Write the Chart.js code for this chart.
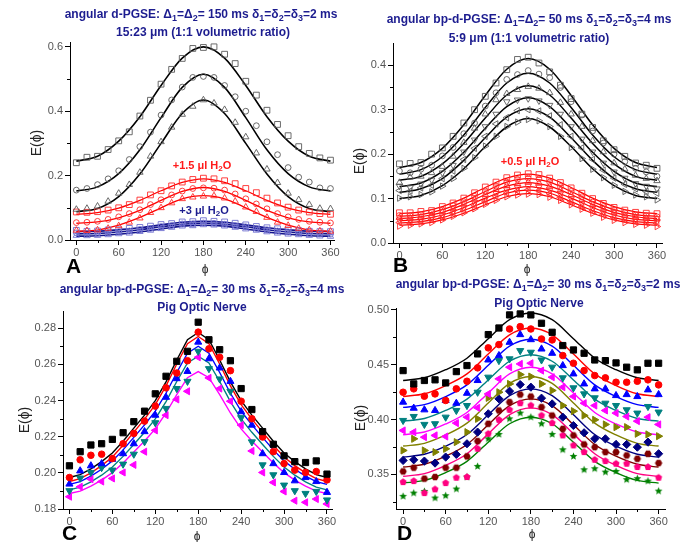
<!DOCTYPE html>
<html>
<head>
<meta charset="utf-8">
<script src="https://cdn.jsdelivr.net/npm/chart.js@4.4.1/dist/chart.umd.min.js"></script>
<style>
  body { margin: 0; background: #fff; }
  #wrap { position: relative; width: 694px; height: 542px; overflow: hidden; font-family: "Liberation Sans", Arial, sans-serif; }
  canvas { position: absolute; }
  .t { position: absolute; white-space: nowrap; transform: translateX(-50%); font-weight: bold; font-size: 12px; color: #1c1c8f; line-height: 14px; }
  .t sub { font-size: 9px; line-height: 0; vertical-align: -3px; }
  .lab { position: absolute; white-space: nowrap; transform: translateX(-50%); font-weight: bold; font-size: 11px; line-height: 13px; }
  .lab sub { font-size: 8px; line-height: 0; vertical-align: -2px; }
  .letter { position: absolute; font-weight: bold; font-size: 21px; line-height: 21px; color: #000; }
  .ey { position: absolute; font-size: 14px; color: #222; transform: translate(-50%,-50%) rotate(-90deg); white-space: nowrap; }
  .ex { position: absolute; font-size: 12px; color: #222; transform: translateX(-50%); }
</style>
</head>
<body>
<div id="wrap">
  <canvas id="cA" width="347" height="271" style="left:0;top:0"></canvas>
  <canvas id="cB" width="347" height="271" style="left:347px;top:0"></canvas>
  <canvas id="cC" width="347" height="271" style="left:0;top:271px"></canvas>
  <canvas id="cD" width="347" height="271" style="left:347px;top:271px"></canvas>

  <div class="t" style="left:201px;top:7px">angular d-PGSE: &Delta;<sub>1</sub>=&Delta;<sub>2</sub>= 150 ms &delta;<sub>1</sub>=&delta;<sub>2</sub>=&delta;<sub>3</sub>=2 ms</div>
  <div class="t" style="left:203px;top:25px">15:23 &mu;m (1:1 volumetric ratio)</div>
  <div class="t" style="left:529px;top:12px">angular bp-d-PGSE: &Delta;<sub>1</sub>=&Delta;<sub>2</sub>= 50 ms &delta;<sub>1</sub>=&delta;<sub>2</sub>=&delta;<sub>3</sub>=4 ms</div>
  <div class="t" style="left:529px;top:31px">5:9 &mu;m (1:1 volumetric ratio)</div>
  <div class="t" style="left:202px;top:282px">angular bp-d-PGSE: &Delta;<sub>1</sub>=&Delta;<sub>2</sub>= 30 ms &delta;<sub>1</sub>=&delta;<sub>2</sub>=&delta;<sub>3</sub>=4 ms</div>
  <div class="t" style="left:202px;top:300px">Pig Optic Nerve</div>
  <div class="t" style="left:538px;top:277px">angular bp-d-PGSE: &Delta;<sub>1</sub>=&Delta;<sub>2</sub>= 30 ms &delta;<sub>1</sub>=&delta;<sub>2</sub>=&delta;<sub>3</sub>=2 ms</div>
  <div class="t" style="left:539px;top:296px">Pig Optic Nerve</div>

  <div class="lab" style="left:202px;top:159px;color:#ff1a1a">+1.5 &mu;l H<sub>2</sub>O</div>
  <div class="lab" style="left:204px;top:204px;color:#1c1c8f">+3 &mu;l H<sub>2</sub>O</div>
  <div class="lab" style="left:530px;top:155px;color:#ff1a1a">+0.5 &mu;l H<sub>2</sub>O</div>

  <div class="ey" style="left:36px;top:143px">E(&#981;)</div>
  <div class="ey" style="left:359px;top:161px">E(&#981;)</div>
  <div class="ey" style="left:24px;top:420px">E(&#981;)</div>
  <div class="ey" style="left:360px;top:418px">E(&#981;)</div>
  <div class="ex" style="left:205px;top:262px">&#981;</div>
  <div class="ex" style="left:527px;top:262px">&#981;</div>
  <div class="ex" style="left:197px;top:529px">&#981;</div>
  <div class="ex" style="left:532px;top:527px">&#981;</div>

  <div class="letter" style="left:66px;top:255px">A</div>
  <div class="letter" style="left:393px;top:254px">B</div>
  <div class="letter" style="left:62px;top:522px">C</div>
  <div class="letter" style="left:397px;top:522px">D</div>
</div>
<script>
// angles
const PHI   = [0,15,30,45,60,75,90,105,120,135,150,165,180,195,210,225,240,255,270,285,300,315,330,345,360];
const PHI30 = [0,30,60,90,120,150,180,210,240,270,300,330,360];

// ---- panel A: d-PGSE, 15:23 um ----
const aBlk1 = [0.240,0.257,0.260,0.281,0.308,0.336,0.385,0.434,0.484,0.530,0.564,0.595,0.598,0.600,0.577,0.548,0.493,0.450,0.403,0.359,0.324,0.290,0.269,0.255,0.248];
const aBlk2 = [0.155,0.160,0.172,0.190,0.215,0.250,0.290,0.335,0.388,0.435,0.475,0.505,0.508,0.505,0.480,0.445,0.400,0.355,0.305,0.265,0.225,0.195,0.180,0.162,0.160];
const aBlk3 = [0.095,0.098,0.105,0.120,0.145,0.172,0.210,0.260,0.305,0.350,0.390,0.415,0.435,0.425,0.405,0.365,0.320,0.270,0.220,0.178,0.145,0.125,0.110,0.098,0.097];
const aRed1 = [0.087,0.086,0.088,0.093,0.100,0.110,0.124,0.140,0.153,0.168,0.180,0.188,0.192,0.190,0.184,0.175,0.160,0.147,0.130,0.115,0.102,0.093,0.087,0.082,0.080];
const aRed2 = [0.054,0.055,0.058,0.064,0.072,0.082,0.094,0.110,0.125,0.140,0.152,0.160,0.162,0.161,0.155,0.143,0.128,0.112,0.097,0.082,0.072,0.064,0.058,0.055,0.053];
const aRed3 = [0.030,0.029,0.031,0.036,0.044,0.055,0.068,0.085,0.100,0.115,0.128,0.133,0.136,0.137,0.130,0.120,0.102,0.088,0.070,0.055,0.045,0.036,0.031,0.028,0.027];
const aBlu1 = [0.030,0.027,0.028,0.031,0.032,0.036,0.039,0.043,0.048,0.051,0.056,0.057,0.060,0.058,0.056,0.052,0.047,0.042,0.038,0.035,0.031,0.029,0.027,0.026,0.026];
const aBlu2 = [0.022,0.021,0.021,0.023,0.026,0.028,0.033,0.036,0.042,0.045,0.050,0.050,0.053,0.052,0.049,0.045,0.041,0.036,0.032,0.028,0.025,0.022,0.020,0.019,0.018];
const aBlu3 = [0.014,0.013,0.014,0.016,0.019,0.021,0.026,0.030,0.035,0.039,0.043,0.044,0.047,0.046,0.043,0.039,0.034,0.030,0.025,0.021,0.018,0.016,0.014,0.012,0.011];
const aBlk1Fit = [0.245,0.260,0.307,0.383,0.480,0.565,0.600,0.565,0.480,0.383,0.307,0.260,0.245];
const aBlk2Fit = [0.152,0.165,0.206,0.280,0.380,0.474,0.515,0.474,0.380,0.280,0.206,0.165,0.152];
const aBlk3Fit = [0.088,0.098,0.135,0.205,0.300,0.393,0.435,0.393,0.300,0.205,0.135,0.098,0.088];
const aRed1Fit = [0.080,0.085,0.099,0.123,0.153,0.179,0.190,0.179,0.153,0.123,0.099,0.085,0.080];
const aRed2Fit = [0.052,0.056,0.069,0.092,0.123,0.151,0.163,0.151,0.123,0.092,0.069,0.056,0.052];
const aRed3Fit = [0.027,0.031,0.046,0.070,0.100,0.128,0.138,0.128,0.100,0.070,0.046,0.031,0.027];
const aBlu1Fit = [0.026,0.027,0.032,0.038,0.047,0.055,0.058,0.055,0.047,0.038,0.032,0.027,0.026];
const aBlu2Fit = [0.019,0.020,0.025,0.032,0.041,0.049,0.052,0.049,0.041,0.032,0.025,0.020,0.019];
const aBlu3Fit = [0.012,0.013,0.018,0.025,0.034,0.043,0.046,0.043,0.034,0.025,0.018,0.013,0.012];

// ---- panel B: bp-d-PGSE, 5:9 um ----
const bBlk1 = [0.178,0.179,0.181,0.200,0.214,0.240,0.270,0.300,0.330,0.360,0.390,0.413,0.418,0.405,0.385,0.355,0.325,0.290,0.260,0.230,0.210,0.195,0.180,0.175,0.168];
const bBlk2 = [0.162,0.158,0.166,0.175,0.196,0.215,0.246,0.270,0.308,0.338,0.368,0.379,0.388,0.380,0.372,0.350,0.318,0.288,0.252,0.225,0.200,0.183,0.168,0.160,0.150];
const bBlk3 = [0.136,0.148,0.150,0.158,0.172,0.195,0.226,0.258,0.290,0.322,0.336,0.345,0.352,0.348,0.338,0.316,0.290,0.262,0.230,0.205,0.180,0.166,0.152,0.145,0.140];
const bBlk4 = [0.128,0.125,0.133,0.142,0.158,0.175,0.205,0.232,0.262,0.290,0.318,0.322,0.325,0.320,0.310,0.290,0.262,0.234,0.205,0.180,0.160,0.146,0.134,0.128,0.122];
const bBlk5 = [0.118,0.117,0.124,0.130,0.145,0.162,0.188,0.213,0.240,0.268,0.282,0.298,0.300,0.297,0.286,0.266,0.240,0.214,0.188,0.164,0.146,0.132,0.122,0.116,0.112];
const bBlk6 = [0.101,0.104,0.109,0.115,0.128,0.145,0.168,0.192,0.218,0.240,0.262,0.272,0.278,0.275,0.262,0.240,0.215,0.190,0.166,0.147,0.130,0.116,0.108,0.104,0.097];
const bRed1 = [0.068,0.068,0.071,0.073,0.082,0.090,0.101,0.113,0.126,0.137,0.147,0.153,0.156,0.154,0.146,0.136,0.124,0.112,0.100,0.089,0.080,0.074,0.069,0.067,0.066];
const bRed2 = [0.062,0.061,0.064,0.069,0.074,0.084,0.093,0.105,0.117,0.128,0.137,0.143,0.146,0.144,0.137,0.127,0.116,0.104,0.092,0.082,0.074,0.068,0.063,0.061,0.059];
const bRed3 = [0.057,0.056,0.058,0.062,0.070,0.077,0.087,0.098,0.109,0.120,0.129,0.133,0.137,0.135,0.128,0.119,0.108,0.097,0.086,0.076,0.069,0.062,0.058,0.056,0.054];
const bRed4 = [0.052,0.050,0.054,0.058,0.063,0.071,0.080,0.091,0.101,0.112,0.120,0.125,0.128,0.126,0.119,0.111,0.100,0.090,0.079,0.070,0.063,0.057,0.053,0.051,0.049];
const bRed5 = [0.046,0.045,0.048,0.052,0.057,0.066,0.074,0.084,0.094,0.104,0.112,0.117,0.120,0.118,0.111,0.103,0.093,0.083,0.073,0.064,0.057,0.052,0.048,0.046,0.044];
const bRed6 = [0.038,0.040,0.043,0.046,0.052,0.060,0.068,0.077,0.087,0.096,0.104,0.108,0.110,0.109,0.103,0.096,0.086,0.076,0.067,0.058,0.051,0.046,0.042,0.040,0.037];
const bBlk1Fit = [0.170,0.181,0.213,0.266,0.332,0.391,0.415,0.391,0.332,0.266,0.213,0.181,0.170];
const bBlk2Fit = [0.155,0.165,0.194,0.243,0.305,0.360,0.382,0.360,0.305,0.243,0.194,0.165,0.155];
const bBlk3Fit = [0.141,0.150,0.178,0.224,0.281,0.333,0.354,0.333,0.281,0.224,0.178,0.150,0.141];
const bBlk4Fit = [0.127,0.135,0.161,0.204,0.258,0.307,0.327,0.307,0.258,0.204,0.161,0.135,0.127];
const bBlk5Fit = [0.114,0.122,0.145,0.186,0.237,0.283,0.302,0.283,0.237,0.186,0.145,0.122,0.114];
const bBlk6Fit = [0.100,0.107,0.129,0.167,0.217,0.261,0.280,0.261,0.217,0.167,0.129,0.107,0.100];
const bRed1Fit = [0.066,0.070,0.082,0.101,0.125,0.146,0.155,0.146,0.125,0.101,0.082,0.070,0.066];
const bRed2Fit = [0.060,0.064,0.075,0.093,0.116,0.137,0.145,0.137,0.116,0.093,0.075,0.064,0.060];
const bRed3Fit = [0.055,0.059,0.069,0.087,0.109,0.128,0.136,0.128,0.109,0.087,0.069,0.059,0.055];
const bRed4Fit = [0.050,0.053,0.063,0.080,0.101,0.119,0.127,0.119,0.101,0.080,0.063,0.053,0.050];
const bRed5Fit = [0.045,0.048,0.057,0.073,0.093,0.112,0.119,0.112,0.093,0.073,0.057,0.048,0.045];
const bRed6Fit = [0.040,0.043,0.052,0.067,0.086,0.104,0.111,0.104,0.086,0.067,0.052,0.043,0.040];

// ---- panel C: pig optic nerve, delta=4 ms ----
const cBlk  = [0.2039,0.2117,0.2154,0.2161,0.2185,0.2222,0.2283,0.2341,0.2437,0.2534,0.2617,0.2672,0.2833,0.2736,0.2681,0.2620,0.2466,0.2350,0.2228,0.2158,0.2094,0.2062,0.2057,0.2066,0.1993];
const cRed  = [0.1974,0.2072,0.2097,0.2103,0.2079,0.2161,0.2218,0.2286,0.2369,0.2470,0.2552,0.2620,0.2778,0.2686,0.2639,0.2565,0.2396,0.2299,0.2198,0.2117,0.2051,0.2015,0.2002,0.2007,0.1961];
const cBlu  = [0.1938,0.2011,0.2039,0.2051,0.2075,0.2106,0.2161,0.2228,0.2319,0.2418,0.2521,0.2561,0.2723,0.2631,0.2580,0.2506,0.2338,0.2264,0.2106,0.2051,0.2002,0.1956,0.1974,0.1952,0.1892];
const cTeal = [0.1901,0.1971,0.2002,0.2029,0.2015,0.2048,0.2103,0.2172,0.2277,0.2356,0.2466,0.2506,0.2672,0.2576,0.2519,0.2451,0.2305,0.2171,0.2044,0.1989,0.1932,0.1901,0.1886,0.1897,0.1850];
const cMag  = [0.1868,0.1923,0.1965,0.1952,0.1969,0.2002,0.2044,0.2117,0.2235,0.2319,0.2406,0.2451,0.2639,0.2525,0.2466,0.2396,0.2264,0.2121,0.2002,0.1947,0.1897,0.1846,0.1837,0.1855,0.1828];
const cBlkFit  = [0.1974,0.1990,0.2022,0.2062,0.2110,0.2175,0.2247,0.2319,0.2399,0.2503,0.2624,0.2736,0.2776,0.2736,0.2624,0.2503,0.2399,0.2319,0.2247,0.2175,0.2110,0.2062,0.2022,0.1990,0.1974];
const cRedFit  = [0.1952,0.1968,0.2000,0.2040,0.2088,0.2153,0.2225,0.2297,0.2377,0.2481,0.2602,0.2714,0.2754,0.2714,0.2602,0.2481,0.2377,0.2297,0.2225,0.2153,0.2088,0.2040,0.2000,0.1968,0.1952];
const cBluFit  = [0.1936,0.1951,0.1982,0.2020,0.2066,0.2127,0.2196,0.2265,0.2341,0.2440,0.2555,0.2662,0.2700,0.2662,0.2555,0.2440,0.2341,0.2265,0.2196,0.2127,0.2066,0.2020,0.1982,0.1951,0.1936];
const cTealFit = [0.1906,0.1921,0.1950,0.1987,0.2032,0.2091,0.2157,0.2224,0.2298,0.2394,0.2505,0.2608,0.2645,0.2608,0.2505,0.2394,0.2298,0.2224,0.2157,0.2091,0.2032,0.1987,0.1950,0.1921,0.1906];
const cMagFit  = [0.1886,0.1899,0.1926,0.1960,0.2001,0.2055,0.2115,0.2176,0.2243,0.2331,0.2432,0.2526,0.2560,0.2526,0.2432,0.2331,0.2243,0.2176,0.2115,0.2055,0.2001,0.1960,0.1926,0.1899,0.1886];

// ---- panel D: pig optic nerve, delta=2 ms ----
const dBlk   = [0.4445,0.4324,0.4355,0.4361,0.4333,0.4436,0.4491,0.4597,0.4773,0.4833,0.4952,0.4961,0.4952,0.4876,0.4794,0.4673,0.4633,0.4603,0.4542,0.4536,0.4515,0.4476,0.4452,0.4512,0.4512];
const dRed   = [0.4248,0.4279,0.4212,0.4233,0.4173,0.4279,0.4348,0.4470,0.4652,0.4682,0.4824,0.4845,0.4824,0.4733,0.4724,0.4582,0.4512,0.4445,0.4400,0.4379,0.4339,0.4339,0.4348,0.4361,0.4315];
const dBlu   = [0.4158,0.4103,0.4088,0.4082,0.4173,0.4148,0.4239,0.4355,0.4542,0.4582,0.4703,0.4773,0.4727,0.4642,0.4603,0.4491,0.4415,0.4324,0.4279,0.4279,0.4218,0.4227,0.4209,0.4270,0.4227];
const dTeal  = [0.3991,0.4027,0.3955,0.3961,0.4021,0.4082,0.4127,0.4248,0.4385,0.4536,0.4552,0.4627,0.4612,0.4542,0.4476,0.4379,0.4288,0.4233,0.4197,0.4148,0.4127,0.4088,0.4058,0.4118,0.4067];
const dMag   = [0.3900,0.3885,0.3839,0.3855,0.3845,0.3967,0.4021,0.4106,0.4233,0.4370,0.4476,0.4506,0.4512,0.4445,0.4385,0.4294,0.4209,0.4148,0.4127,0.4082,0.4058,0.4027,0.3985,0.4021,0.3955];
const dOlive = [0.3718,0.3824,0.3718,0.3703,0.3733,0.3794,0.3885,0.4006,0.4197,0.4248,0.4324,0.4409,0.4391,0.4324,0.4264,0.4127,0.4076,0.4036,0.3997,0.3955,0.3930,0.3930,0.3870,0.3864,0.3848];
const dNavy  = [0.3627,0.3633,0.3621,0.3603,0.3658,0.3682,0.3779,0.3885,0.4052,0.4188,0.4258,0.4318,0.4294,0.4194,0.4142,0.4021,0.3945,0.3879,0.3824,0.3824,0.3773,0.3773,0.3748,0.3794,0.3688];
const dWine  = [0.3527,0.3561,0.3461,0.3476,0.3561,0.3561,0.3664,0.3803,0.3961,0.4082,0.4158,0.4227,0.4209,0.4112,0.4036,0.3915,0.3855,0.3773,0.3748,0.3703,0.3703,0.3673,0.3642,0.3688,0.3603];
const dPink  = [0.3430,0.3439,0.3330,0.3364,0.3421,0.3470,0.3476,0.3733,0.3870,0.3997,0.4088,0.4148,0.4127,0.4036,0.3967,0.3855,0.3764,0.3703,0.3633,0.3621,0.3597,0.3597,0.3567,0.3567,0.3470];
const dGreen = [0.3300,0.3330,0.3345,0.3285,0.3306,0.3367,0.3476,0.3573,0.3824,0.3864,0.4006,0.4058,0.4021,0.3961,0.3864,0.3724,0.3664,0.3542,0.3552,0.3521,0.3527,0.3452,0.3461,0.3439,0.3348];
const dBlkFit   = [0.4355,0.4380,0.4453,0.4558,0.4736,0.4909,0.4970,0.4909,0.4736,0.4558,0.4453,0.4380,0.4355];
const dRedFit   = [0.4209,0.4234,0.4309,0.4415,0.4596,0.4771,0.4833,0.4771,0.4596,0.4415,0.4309,0.4234,0.4209];
const dBluFit   = [0.4110,0.4135,0.4209,0.4315,0.4494,0.4668,0.4730,0.4668,0.4494,0.4315,0.4209,0.4135,0.4110];
const dTealFit  = [0.3985,0.4009,0.4082,0.4185,0.4360,0.4530,0.4590,0.4530,0.4360,0.4185,0.4082,0.4009,0.3985];
const dMagFit   = [0.3861,0.3886,0.3959,0.4064,0.4242,0.4415,0.4476,0.4415,0.4242,0.4064,0.3959,0.3886,0.3861];
const dOliveFit = [0.3758,0.3783,0.3859,0.3967,0.4150,0.4328,0.4391,0.4328,0.4150,0.3967,0.3859,0.3783,0.3758];
const dNavyFit  = [0.3658,0.3683,0.3757,0.3863,0.4043,0.4217,0.4279,0.4217,0.4043,0.3863,0.3757,0.3683,0.3658];
const dWineFit  = [0.3567,0.3592,0.3666,0.3772,0.3952,0.4126,0.4188,0.4126,0.3952,0.3772,0.3666,0.3592,0.3567];
const dPinkFit  = [0.3482,0.3507,0.3582,0.3688,0.3869,0.4044,0.4106,0.4044,0.3869,0.3688,0.3582,0.3507,0.3482];
const dGreenFit = [0.3421,0.3445,0.3517,0.3619,0.3793,0.3961,0.4021,0.3961,0.3793,0.3619,0.3517,0.3445,0.3421];

// tick labels
const X_MAJOR = [0,60,120,180,240,300,360];
const X_MINOR = [30,90,150,210,270,330];

// marker images for shapes Chart.js lacks
function shapeMarker(kind, color, r) {
  const c = document.createElement('canvas');
  const s = Math.ceil(r * 2 + 2);
  c.width = c.height = s;
  const g = c.getContext('2d');
  const n = kind === 'hex' ? 6 : kind === 'pent' ? 5 : 10;
  g.fillStyle = color;
  g.beginPath();
  for (let i = 0; i < n; i++) {
    const a = -Math.PI / 2 + i * 2 * Math.PI / n + (kind === 'hex' ? Math.PI / 6 : 0);
    const rr = (kind === 'star' && i % 2) ? r * 0.45 : r;
    g.lineTo(s / 2 + rr * Math.cos(a), s / 2 + rr * Math.sin(a));
  }
  g.closePath();
  g.fill();
  return c;
}

const pts = (xs, ys) => xs.map((x, i) => ({ x: x, y: ys[i] }));

function marks(ys, color, style, rot, open, r) {
  const size = r || (style === 'rect' ? 4.1 : style === 'triangle' ? 3.7 : 2.9);
  const ds = {
    data: pts(PHI, ys), showLine: false, pointStyle: style, pointRotation: rot || 0,
    pointRadius: size, pointBorderColor: color, pointBorderWidth: open ? 0.9 : 1,
    pointBackgroundColor: open ? 'rgba(0,0,0,0)' : color, order: 1
  };
  if (color instanceof HTMLCanvasElement) {
    ds.pointStyle = color;
    ds.pointBorderColor = 'rgba(0,0,0,0)';
    ds.pointBackgroundColor = 'rgba(0,0,0,0)';
  }
  return ds;
}

function fitLine(ys, color, xs, w, straight) {
  const ds = { data: pts(xs, ys), pointRadius: 0, borderColor: color, borderWidth: w || 1.4, fill: false, order: 2 };
  if (straight) ds.tension = 0; else ds.cubicInterpolationMode = 'monotone';
  return ds;
}

const minorTicks = {
  id: 'minorTicks',
  afterDraw(chart, args, opts) {
    const ctx = chart.ctx, a = chart.chartArea;
    ctx.save();
    ctx.strokeStyle = '#000';
    ctx.lineWidth = 1;
    (opts.x || []).forEach(v => {
      const px = Math.round(chart.scales.x.getPixelForValue(v)) + 0.5;
      ctx.beginPath(); ctx.moveTo(px, a.bottom); ctx.lineTo(px, a.bottom + 3); ctx.stroke();
    });
    (opts.y || []).forEach(v => {
      const py = Math.round(chart.scales.y.getPixelForValue(v)) + 0.5;
      ctx.beginPath(); ctx.moveTo(a.left, py); ctx.lineTo(a.left - 3, py); ctx.stroke();
    });
    ctx.restore();
  }
};

function panel(id, datasets, c) {
  const tickFont = { family: '"Liberation Sans", Arial, sans-serif', size: 11 };
  new Chart(document.getElementById(id), {
    type: 'line',
    data: { datasets: datasets },
    plugins: [minorTicks],
    options: {
      responsive: false, animation: false, devicePixelRatio: 1,
      layout: { padding: c.pad },
      plugins: { legend: { display: false }, tooltip: { enabled: false }, minorTicks: { x: X_MINOR, y: c.yMinor } },
      scales: {
        x: {
          type: 'linear', min: c.xMin, max: c.xMax,
          afterBuildTicks: s => { s.ticks = X_MAJOR.map(v => ({ value: v })); },
          afterFit: s => { s.height = c.xH; },
          ticks: { color: '#555', font: tickFont, padding: 1, maxRotation: 0, callback: v => String(v) },
          grid: { drawOnChartArea: false, drawTicks: true, tickLength: 5, color: '#000' },
          border: { display: true, color: '#000', width: 1 }
        },
        y: {
          min: c.yMin, max: c.yMax,
          afterBuildTicks: s => { s.ticks = c.yMajor.map(v => ({ value: v })); },
          afterFit: s => { s.width = c.yW; },
          ticks: { color: '#555', font: tickFont, padding: 2, callback: v => v.toFixed(c.dec) },
          grid: { drawOnChartArea: false, drawTicks: true, tickLength: 5, color: '#000' },
          border: { display: true, color: '#000', width: 1 }
        }
      }
    }
  });
}

const GREY = '#5a5a5a', RED = '#ff2a2a', NAVY = '#14148c', LAV = '#7070d0';

panel('cA', [
  fitLine(aBlk1Fit, '#000', PHI30, 1.6), fitLine(aBlk2Fit, '#000', PHI30, 1.6), fitLine(aBlk3Fit, '#000', PHI30, 1.6),
  fitLine(aRed1Fit, '#ff0000', PHI30, 1.3), fitLine(aRed2Fit, '#ff0000', PHI30, 1.3), fitLine(aRed3Fit, '#ff0000', PHI30, 1.3),
  fitLine(aBlu1Fit, NAVY, PHI30, 1.6), fitLine(aBlu2Fit, NAVY, PHI30, 1.6), fitLine(aBlu3Fit, NAVY, PHI30, 1.6),
  marks(aBlk1, GREY, 'rect', 0, true), marks(aBlk2, GREY, 'circle', 0, true), marks(aBlk3, GREY, 'triangle', 0, true),
  marks(aRed1, RED, 'rect', 0, true), marks(aRed2, RED, 'circle', 0, true), marks(aRed3, RED, 'triangle', 0, true),
  marks(aBlu1, LAV, 'rect', 0, true), marks(aBlu2, LAV, 'circle', 0, true), marks(aBlu3, LAV, 'triangle', 0, true)
], { xMin: -9, xMax: 365, yMin: 0, yMax: 0.615, yMajor: [0, 0.2, 0.4, 0.6], yMinor: [0.1, 0.3, 0.5], dec: 1,
     yW: 70, xH: 25, pad: { left: 0, top: 42, right: 13, bottom: 6 } });

panel('cB', [
  fitLine(bBlk1Fit, '#000', PHI30, 1.5), fitLine(bBlk2Fit, '#000', PHI30, 1.5), fitLine(bBlk3Fit, '#000', PHI30, 1.5),
  fitLine(bBlk4Fit, '#000', PHI30, 1.5), fitLine(bBlk5Fit, '#000', PHI30, 1.5), fitLine(bBlk6Fit, '#000', PHI30, 1.5),
  fitLine(bRed1Fit, '#ff0000', PHI30, 1.2), fitLine(bRed2Fit, '#ff0000', PHI30, 1.2), fitLine(bRed3Fit, '#ff0000', PHI30, 1.2),
  fitLine(bRed4Fit, '#ff0000', PHI30, 1.2), fitLine(bRed5Fit, '#ff0000', PHI30, 1.2), fitLine(bRed6Fit, '#ff0000', PHI30, 1.2),
  marks(bBlk1, GREY, 'rect', 0, true), marks(bBlk2, GREY, 'circle', 0, true), marks(bBlk3, GREY, 'triangle', 0, true),
  marks(bBlk4, GREY, 'triangle', 180, true), marks(bBlk5, GREY, 'triangle', 270, true), marks(bBlk6, GREY, 'triangle', 90, true),
  marks(bRed1, RED, 'rect', 0, true), marks(bRed2, RED, 'circle', 0, true), marks(bRed3, RED, 'triangle', 0, true),
  marks(bRed4, RED, 'triangle', 180, true), marks(bRed5, RED, 'triangle', 270, true), marks(bRed6, RED, 'triangle', 90, true)
], { xMin: -9, xMax: 367, yMin: 0, yMax: 0.45, yMajor: [0, 0.1, 0.2, 0.3, 0.4], yMinor: [0.05, 0.15, 0.25, 0.35], dec: 1,
     yW: 46, xH: 22, pad: { left: 0, top: 43, right: 32, bottom: 6 } });

panel('cC', [
  fitLine(cBlkFit, '#000000', PHI, 1.4, true), fitLine(cRedFit, '#ff0000', PHI, 1.4, true), fitLine(cBluFit, '#0000ff', PHI, 1.4, true),
  fitLine(cTealFit, '#008080', PHI, 1.4, true), fitLine(cMagFit, '#ff00ff', PHI, 1.4, true),
  marks(cBlk, '#000000', 'rect', 0, false, 4.4), marks(cRed, '#ff0000', 'circle', 0, false, 3.3),
  marks(cBlu, '#0000ff', 'triangle', 0, false, 4.1), marks(cTeal, '#008080', 'triangle', 180, false, 4.1),
  marks(cMag, '#ff00ff', 'triangle', 270, false, 4.1)
], { xMin: -9, xMax: 367, yMin: 0.18, yMax: 0.2895, yMajor: [0.18, 0.20, 0.22, 0.24, 0.26, 0.28], yMinor: [0.19, 0.21, 0.23, 0.25, 0.27], dec: 2,
     yW: 63, xH: 25, pad: { left: 0, top: 40, right: 15, bottom: 8 } });

panel('cD', [
  fitLine(dBlkFit, '#000000', PHI30, 1.4), fitLine(dRedFit, '#ff0000', PHI30, 1.4), fitLine(dBluFit, '#0000ff', PHI30, 1.4),
  fitLine(dTealFit, '#008080', PHI30, 1.4), fitLine(dMagFit, '#ff00ff', PHI30, 1.4), fitLine(dOliveFit, '#808000', PHI30, 1.4),
  fitLine(dNavyFit, '#000080', PHI30, 1.4), fitLine(dWineFit, '#800000', PHI30, 1.4), fitLine(dPinkFit, '#ff0080', PHI30, 1.4),
  fitLine(dGreenFit, '#008000', PHI30, 1.4),
  marks(dBlk, '#000000', 'rect', 0, false, 4.4), marks(dRed, '#ff0000', 'circle', 0, false, 3.3),
  marks(dBlu, '#0000ff', 'triangle', 0, false, 4.1), marks(dTeal, '#008080', 'triangle', 180, false, 4.1),
  marks(dMag, '#ff00ff', 'triangle', 270, false, 4.1), marks(dOlive, '#808000', 'triangle', 90, false, 4.1),
  marks(dNavy, '#000080', 'rectRot', 0, false, 4.1), marks(dWine, shapeMarker('hex', '#800000', 3.7), 0, 0, false, 4),
  marks(dPink, shapeMarker('pent', '#ff0080', 3.7), 0, 0, false, 4), marks(dGreen, shapeMarker('star', '#008000', 4.1), 0, 0, false, 4)
], { xMin: -10, xMax: 369, yMin: 0.3185, yMax: 0.5015, yMajor: [0.35, 0.40, 0.45, 0.50], yMinor: [0.325, 0.375, 0.425, 0.475], dec: 2,
     yW: 49, xH: 25, pad: { left: 0, top: 37, right: 29, bottom: 8 } });
</script>
</body>
</html>
